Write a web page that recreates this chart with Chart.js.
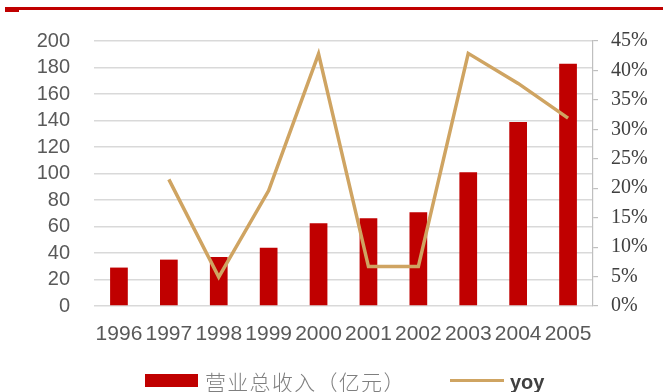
<!DOCTYPE html>
<html>
<head>
<meta charset="utf-8">
<script src="https://cdn.jsdelivr.net/npm/chart.js@4"></script>
<style>
  html, body { margin: 0; padding: 0; background: #fff; }
  #wrap { position: relative; width: 663px; height: 392px; overflow: hidden; }
  #topline { position: absolute; left: 5px; top: 7px; width: 658px; height: 3px; background: #c00000; }
  #topline-tab { position: absolute; left: 5px; top: 9px; width: 14px; height: 3px; background: #c00000; }
  #legend { position: absolute; left: 0; top: 0; width: 663px; height: 392px; pointer-events: none; }
  .lg { position: absolute; white-space: nowrap; }
</style>
</head>
<body>
<div id="wrap">
  <canvas id="chart" width="663" height="392"></canvas>
  <div id="topline"></div>
  <div id="topline-tab"></div>
  <div id="legend"></div>
</div>
<script>
var years = ["1996", "1997", "1998", "1999", "2000", "2001", "2002", "2003", "2004", "2005"];
var revenue = [29, 35, 37, 44, 62.4, 66.2, 70.7, 100.9, 138.9, 182.9];
var yoy = [null, 21.5, 4.9, 19.6, 42.8, 6.7, 6.7, 42.9, 37.8, 31.9];
var revenueLabel = "营业总收入（亿元）";
var yoyLabel = "yoy";

var barColor = "#c00000";
var lineColor = "#cfa462";

var ctx = document.getElementById("chart").getContext("2d");
var myChart = new Chart(ctx, {
  data: {
    labels: years,
    datasets: [
      {
        type: "line",
        label: yoyLabel,
        data: yoy,
        yAxisID: "y1",
        borderColor: lineColor,
        backgroundColor: lineColor,
        borderWidth: 3.5,
        pointRadius: 0,
        tension: 0,
        order: 0,
      },
      {
        type: "bar",
        label: revenueLabel,
        data: revenue,
        yAxisID: "y",
        backgroundColor: barColor,
        barPercentage: 0.355,
        categoryPercentage: 1,
        order: 1,
      },
    ],
  },
  options: {
    responsive: false,
    animation: false,
    layout: { padding: { top: 41, left: 0, right: 0, bottom: 0 } },
    scales: {
      x: {
        grid: { display: false },
        border: { display: false },
        ticks: {
          color: "#595959",
          font: { family: "Liberation Sans", size: 21 },
          padding: 8,
          maxRotation: 0,
          autoSkip: false,
        },
        afterFit: function (scale) { scale.height = 86; },
      },
      y: {
        position: "left",
        min: 0,
        max: 200,
        ticks: {
          stepSize: 20,
          autoSkip: false,
          color: "#595959",
          font: { family: "Liberation Sans", size: 20 },
          padding: 24,
        },
        grid: { color: "#d9d9d9", lineWidth: 1.5, drawTicks: false },
        border: { display: false },
        afterFit: function (scale) { scale.width = 94; },
      },
      y1: {
        position: "right",
        min: 0,
        max: 45,
        ticks: {
          stepSize: 5,
          autoSkip: false,
          color: "#404040",
          font: { family: "Liberation Sans Narrow", size: 20 },
          padding: 13,
          callback: function (v) { return Math.round(v) + "%"; },
        },
        grid: { drawOnChartArea: false, color: "#bfbfbf", tickLength: 5, lineWidth: 1.2 },
        border: { display: true, color: "#bfbfbf", width: 1.2 },
        afterFit: function (scale) { scale.width = 70; },
      },
    },
    plugins: {
      legend: { display: false },
      tooltip: { enabled: false },
    },
  },
});

// legend below the axis labels
var legend = document.getElementById("legend");
legend.innerHTML =
  '<div class="lg" style="left:145px;top:374px;width:53px;height:13px;background:' + barColor + '"></div>' +
  '<div class="lg" style="left:205px;top:367px;font:300 21px \'Noto Sans CJK SC\';letter-spacing:1.3px;color:#7f7f7f;line-height:28px">' + revenueLabel + '</div>' +
  '<div class="lg" style="left:450px;top:379px;width:54px;height:3px;background:' + lineColor + '"></div>' +
  '<div class="lg" style="left:510px;top:368px;font:bold 20px \'Liberation Sans\';color:#404040;line-height:28px">' + yoyLabel + '</div>';
</script>
</body>
</html>
